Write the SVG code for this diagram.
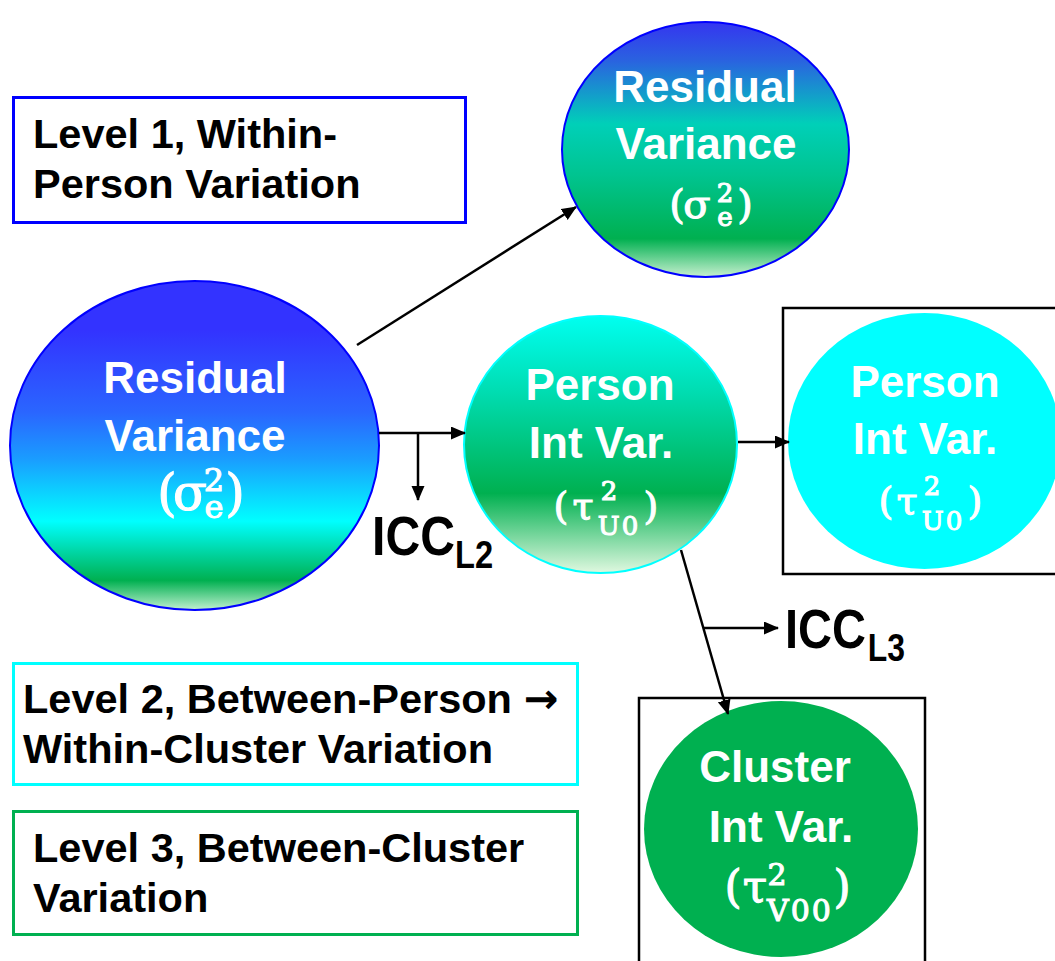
<svg xmlns="http://www.w3.org/2000/svg" width="1055" height="961" viewBox="0 0 1055 961">
  <style>
    .lbl { font-family: "Liberation Sans", Arial, sans-serif; font-weight: bold; font-size: 41.5px; fill: #000; }
    .arr { font-family: "DejaVu Sans", sans-serif; font-weight: bold; }
    .node { font-family: "Liberation Sans", Arial, sans-serif; font-weight: bold; font-size: 44px; fill: #fff; text-anchor: middle; }
    .m { font-family: "DejaVu Serif", "Liberation Serif", serif; font-weight: normal; fill: #fff; stroke: #fff; stroke-width: 1.1; text-anchor: middle; }
    .icc { font-family: "Liberation Sans", Arial, sans-serif; font-weight: bold; fill: #000; }
    .conn { stroke: #000; stroke-width: 2.5; fill: none; marker-end: url(#ah); }
  </style>
  <defs>
    <marker id="ah" markerUnits="userSpaceOnUse" markerWidth="16" markerHeight="14" refX="14" refY="6.5" orient="auto">
      <path d="M0,0 L15,6.5 L0,13 z" fill="#000"/>
    </marker>
    <linearGradient id="gBig" x1="0" y1="0" x2="0" y2="1">
      <stop offset="0" stop-color="#3333ff"/>
      <stop offset="0.15" stop-color="#3333ff"/>
      <stop offset="0.4" stop-color="#2a66ff"/>
      <stop offset="0.54" stop-color="#1a9cff"/>
      <stop offset="0.73" stop-color="#00ffff"/>
      <stop offset="0.91" stop-color="#00b050"/>
      <stop offset="1" stop-color="#c0f0d0"/>
    </linearGradient>
    <linearGradient id="gTop" x1="0" y1="0" x2="0" y2="1">
      <stop offset="0" stop-color="#3535f0"/>
      <stop offset="0.15" stop-color="#2a62e0"/>
      <stop offset="0.4" stop-color="#00d0b8"/>
      <stop offset="0.6" stop-color="#00c490"/>
      <stop offset="0.85" stop-color="#00b050"/>
      <stop offset="1" stop-color="#c8f0d0"/>
    </linearGradient>
    <linearGradient id="gPer" x1="0" y1="0" x2="0" y2="1">
      <stop offset="0" stop-color="#00fff0"/>
      <stop offset="0.3" stop-color="#00dcb0"/>
      <stop offset="0.69" stop-color="#00b050"/>
      <stop offset="1" stop-color="#e0f8e0"/>
    </linearGradient>
  </defs>

  <g id="level1">
    <rect x="13.5" y="97.5" width="452" height="125" fill="#fff" stroke="#0000ff" stroke-width="3"/>
    <text class="lbl" x="33" y="148">Level 1, Within-</text>
    <text class="lbl" x="33" y="198">Person Variation</text>
  </g>

  <g id="level2">
    <rect x="13.5" y="663.5" width="564" height="121" fill="#fff" stroke="#00ffff" stroke-width="3"/>
    <text class="lbl" x="23" y="713">Level 2, Between-Person <tspan class="arr">→</tspan></text>
    <text class="lbl" x="23" y="763">Within-Cluster Variation</text>
  </g>

  <g id="level3">
    <rect x="13.5" y="811.5" width="564" height="123" fill="#fff" stroke="#00b050" stroke-width="3"/>
    <text class="lbl" x="33" y="862">Level 3, Between-Cluster</text>
    <text class="lbl" x="33" y="912">Variation</text>
  </g>

  <g id="residual-top">
    <ellipse cx="705.5" cy="149.5" rx="143.5" ry="127.5" fill="url(#gTop)" stroke="#0000ff" stroke-width="2"/>
    <text class="node" x="705" y="102">Residual</text>
    <text class="node" x="706" y="159">Variance</text>
    <text class="m" font-size="40"><tspan x="677" y="218">(</tspan><tspan x="697" y="218">σ</tspan><tspan x="725" y="202" font-size="26">2</tspan><tspan x="725" y="226" font-size="26">e</tspan><tspan x="745" y="218">)</tspan></text>
  </g>

  <g id="residual-big">
    <ellipse cx="194.5" cy="445.5" rx="184.5" ry="164.5" fill="url(#gBig)" stroke="#0000ff" stroke-width="2"/>
    <text class="node" x="195" y="393">Residual</text>
    <text class="node" x="195" y="451">Variance</text>
    <text class="m" font-size="50"><tspan x="167" y="510">(</tspan><tspan x="190" y="510">σ</tspan><tspan x="214" y="491" font-size="32">2</tspan><tspan x="214" y="518" font-size="32">e</tspan><tspan x="235" y="510">)</tspan></text>
  </g>

  <g id="person-l2">
    <ellipse cx="600.5" cy="444.5" rx="136.5" ry="128.5" fill="url(#gPer)" stroke="#00ffff" stroke-width="2"/>
    <text class="node" x="600" y="400">Person</text>
    <text class="node" x="601" y="458">Int Var.</text>
    <text class="m" font-size="38"><tspan x="561" y="519">(</tspan><tspan x="583" y="519">τ</tspan><tspan x="609" y="500" font-size="26">2</tspan><tspan x="619" y="535" font-size="26" letter-spacing="2">U0</tspan><tspan x="651" y="519">)</tspan></text>
  </g>

  <g id="person-l3">
    <rect x="783" y="308" width="285" height="266" fill="#fff" stroke="#000" stroke-width="2.5"/>
    <ellipse cx="924.5" cy="441" rx="136.5" ry="128" fill="#00ffff"/>
    <text class="node" x="925" y="397">Person</text>
    <text class="node" x="925" y="454">Int Var.</text>
    <text class="m" font-size="38"><tspan x="886" y="514">(</tspan><tspan x="907" y="514">τ</tspan><tspan x="932" y="495" font-size="26">2</tspan><tspan x="943" y="530" font-size="26" letter-spacing="2">U0</tspan><tspan x="975" y="514">)</tspan></text>
  </g>

  <g id="cluster">
    <rect x="639" y="698" width="286" height="280" fill="#fff" stroke="#000" stroke-width="2.5"/>
    <ellipse cx="781" cy="829" rx="137" ry="128" fill="#00b050"/>
    <text class="node" x="775" y="782">Cluster</text>
    <text class="node" x="781" y="842">Int Var.</text>
    <text class="m" font-size="44"><tspan x="733" y="902">(</tspan><tspan x="755" y="902">τ</tspan><tspan x="777" y="885" font-size="30">2</tspan><tspan x="800" y="921" font-size="30" letter-spacing="2">V00</tspan><tspan x="842" y="902">)</tspan></text>
  </g>

  <g id="icc-l2">
    <text class="icc" transform="translate(372,555) scale(0.86,1)" font-size="56">ICC<tspan dy="13" font-size="38">L2</tspan></text>
  </g>

  <g id="icc-l3">
    <text class="icc" transform="translate(785,648) scale(0.84,1)" font-size="56">ICC<tspan dy="13" font-size="38" dx="2">L3</tspan></text>
  </g>

  <g id="connectors">
    <line class="conn" x1="357" y1="345" x2="576" y2="207"/>
    <line class="conn" x1="379" y1="433" x2="465" y2="433"/>
    <line class="conn" x1="418" y1="433" x2="418" y2="500"/>
    <line class="conn" x1="738" y1="442" x2="789" y2="442"/>
    <line class="conn" x1="681" y1="550" x2="728" y2="714"/>
    <line class="conn" x1="704" y1="628" x2="778" y2="628"/>
  </g>
</svg>
